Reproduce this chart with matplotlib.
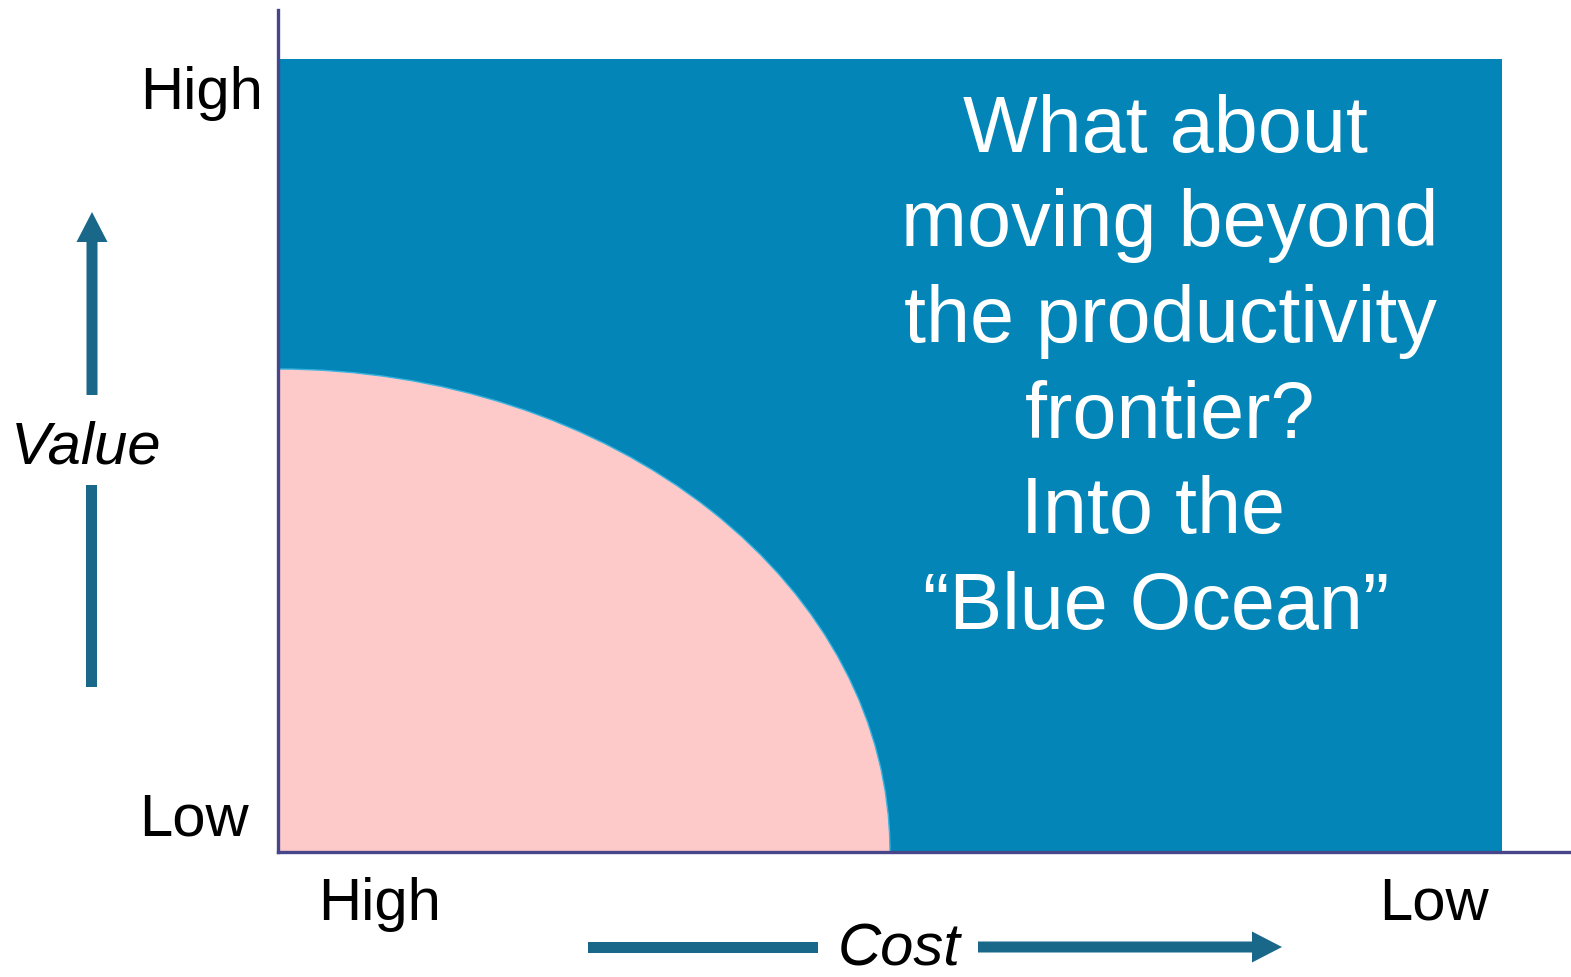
import matplotlib
matplotlib.use("Agg")
import matplotlib.pyplot as plt
from matplotlib.patches import Rectangle, Ellipse, FancyArrow

plt.rcParams['font.family'] = ['Liberation Sans', 'DejaVu Sans']

# ---- data (arbitrary value/cost units, axes span 0..100) ----
ocean_extent = [94.66, 94.18]          # blue ocean region (cost, value)
frontier_extent = [47.35, 57.34]       # productivity frontier semi-axes
axis_labels = ["Cost", "Value"]
level_labels = ["High", "Low"]
message_lines = ["What about", "moving beyond", "the productivity",
                 "frontier?", "Into the", "\u201cBlue Ocean\u201d"]

W, H = 1571, 977
fig = plt.figure(figsize=(W / 100, H / 100), dpi=100)

# main axes
left_px, top_px, right_px, bottom_px = 277.5, 10, 1571, 851.5
ax = fig.add_axes([left_px / W, (H - bottom_px) / H,
                   (right_px - left_px) / W, (bottom_px - top_px) / H])
ax.set_xlim(0, 100)
ax.set_ylim(0, 100)
for s in ['top', 'right']:
    ax.spines[s].set_visible(False)
for s in ['left', 'bottom']:
    ax.spines[s].set_color('#47468a')
    ax.spines[s].set_linewidth(2.4)
    ax.spines[s].set_zorder(5)
ax.set_xticks([])
ax.set_yticks([])
ax.patch.set_alpha(0)

ax.add_patch(Rectangle((0, 0), ocean_extent[0], ocean_extent[1],
                       facecolor='#0386b7', edgecolor='none', zorder=1))
ax.add_patch(Ellipse((0, 0), 2 * frontier_extent[0], 2 * frontier_extent[1],
                     facecolor='#fdc9c9', edgecolor='#3bb3df', lw=1.0, zorder=2))

# overlay axes in pixel coordinates for annotations
ov = fig.add_axes([0, 0, 1, 1], zorder=10)
ov.set_xlim(0, W)
ov.set_ylim(H, 0)
ov.axis('off')
ov.patch.set_alpha(0)

fs = 43
tc = 'black'
ov.text(263, 109, level_labels[0], fontsize=fs, ha='right', va='baseline', color=tc)
ov.text(249, 836, level_labels[1], fontsize=fs, ha='right', va='baseline', color=tc)
ov.text(380, 920, level_labels[0], fontsize=fs, ha='center', va='baseline', color=tc)
ov.text(1434, 920, level_labels[1], fontsize=fs, ha='center', va='baseline', color=tc)

ov.text(86, 463, axis_labels[1], fontsize=fs, style='italic', ha='center', va='baseline', color=tc)
ov.text(899, 965, axis_labels[0], fontsize=fs, style='italic', ha='center', va='baseline', color=tc)

arrow_c = '#1a6889'
# value arrow
ov.add_patch(FancyArrow(92, 687, 0, -202, width=11, head_width=0, head_length=0,
                        color=arrow_c, lw=0))
ov.add_patch(FancyArrow(92, 395, 0, -183, width=11, head_width=31, head_length=30,
                        length_includes_head=True, color=arrow_c, lw=0))
# cost arrow
ov.add_patch(FancyArrow(588, 947, 230, 0, width=11, head_width=0, head_length=0,
                        color=arrow_c, lw=0))
ov.add_patch(FancyArrow(978, 947, 304, 0, width=11, head_width=31, head_length=30,
                        length_includes_head=True, color=arrow_c, lw=0))

# message
centers = [1165, 1170, 1170, 1170, 1153, 1156]
baselines = [152, 246, 342, 438, 533, 629]
for line, cx, by in zip(message_lines, centers, baselines):
    ov.text(cx, by, line, fontsize=57, color='white', ha='center', va='baseline')

fig.savefig('out.png', dpi=100)
